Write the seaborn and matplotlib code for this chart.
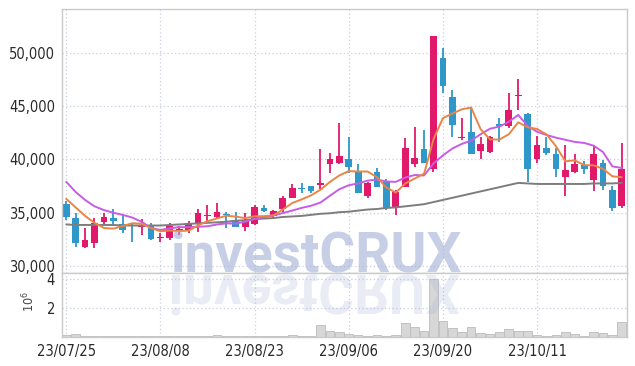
import numpy as np
import pandas as pd
import matplotlib
matplotlib.use("Agg")
import matplotlib.pyplot as plt
import seaborn as sns
from matplotlib import ticker, font_manager
from matplotlib.textpath import TextPath
from matplotlib.patches import PathPatch
from matplotlib.font_manager import FontProperties
from matplotlib.transforms import Affine2D

# ---------------- data ----------------
dates = ["23/07/25", "23/07/26", "23/07/27", "23/07/28", "23/07/31", "23/08/01", "23/08/02", "23/08/03", "23/08/04", "23/08/07",
         "23/08/08", "23/08/09", "23/08/10", "23/08/11", "23/08/14", "23/08/16", "23/08/17", "23/08/18", "23/08/21", "23/08/22",
         "23/08/23", "23/08/24", "23/08/25", "23/08/28", "23/08/29", "23/08/30", "23/08/31", "23/09/01", "23/09/04", "23/09/05",
         "23/09/06", "23/09/07", "23/09/08", "23/09/11", "23/09/12", "23/09/13", "23/09/14", "23/09/15", "23/09/18", "23/09/19",
         "23/09/20", "23/09/21", "23/09/22", "23/09/25", "23/09/26", "23/09/27", "23/10/04", "23/10/05", "23/10/06", "23/10/10",
         "23/10/11", "23/10/12", "23/10/13", "23/10/16", "23/10/17", "23/10/18", "23/10/19", "23/10/20", "23/10/23", "23/10/24"]

open_ = [35800, 34500, 31800, 32150, 34150, 34500, 33950, 33850, 33650, 33850,
         32650, 32650, 33400, 33400, 34050, 34650, 34600, 34900, 34250, 33650,
         33950, 35450, 34700, 35350, 36400, 37300, 37500, 37600, 39600, 39650,
         40050, 38850, 36550, 38850, 38000, 35550, 37400, 39600, 41000, 39100,
         49550, 45850, 42050, 42600, 40800, 40700, 43350, 43150, 46000, 44250,
         40050, 41100, 40500, 38350, 38800, 39500, 38050, 39650, 37150, 35650]
high = [36100, 35000, 33550, 34500, 35000, 35350, 34800, 34050, 34400, 34050,
        33100, 34050, 33750, 34250, 35350, 35700, 35900, 35050, 35050, 35000,
        35750, 35750, 35250, 36550, 37700, 37800, 37500, 40950, 40600, 43450,
        42100, 39600, 37900, 39200, 38150, 37150, 42000, 43050, 42750, 51600,
        50450, 46550, 43900, 44950, 42100, 42200, 43900, 46250, 47550, 44350,
        42200, 42100, 41100, 41350, 40500, 39850, 41350, 39950, 37500, 41550]
low = [34300, 31800, 31700, 31700, 33850, 33750, 33100, 32250, 32900, 32450,
       32250, 32450, 32900, 33100, 33200, 34050, 34500, 33550, 33650, 33300,
       33850, 35050, 34400, 35050, 36400, 36850, 36850, 37250, 38750, 39600,
       38750, 36850, 36400, 37400, 35250, 34800, 37400, 39300, 39650, 38800,
       46250, 42100, 41850, 40500, 40050, 40600, 41650, 42950, 44650, 37900,
       39650, 40400, 38350, 36550, 38750, 38650, 37050, 37150, 35150, 35450]
close = [34600, 32150, 32450, 34050, 34600, 34250, 33400, 33750, 33850, 32550,
         32750, 33750, 33500, 34050, 35000, 34700, 35050, 34800, 33650, 34250,
         35550, 35150, 35150, 36400, 37300, 37250, 37050, 37800, 40050, 40350,
         39300, 36850, 37800, 37400, 35450, 36950, 41100, 40150, 39650, 51600,
         46900, 43250, 42150, 40500, 41450, 42100, 43150, 44650, 46100, 39100,
         41350, 40600, 39100, 39000, 39550, 39100, 40500, 37500, 35450, 39100]

ma5 = [36300, 35500, 34700, 34050, 33570, 33500, 33750, 34010, 33970, 33560,
       33260, 33330, 33280, 33320, 33810, 34200, 34460, 34720, 34640, 34490,
       34660, 34680, 34750, 35300, 35910, 36250, 36630, 37160, 37890, 38500,
       38910, 38870, 38870, 38340, 37360, 36890, 37740, 38210, 38660, 41890,
       43880, 44310, 44710, 44880, 42850, 41890, 41870, 42370, 43490, 43020,
       42870, 42360, 41250, 39830, 39920, 39470, 39450, 39130, 38420, 38330]
ma10 = [37900, 36950, 36200, 35600, 35250, 35000, 34800, 34550, 34150, 33565,
        33380, 33540, 33645, 33645, 33685, 33730, 33895, 34000, 33980, 34150,
        34430, 34570, 34735, 34970, 35200, 35455, 35655, 35955, 36595, 37205,
        37580, 37750, 38015, 38115, 37930, 37900, 38305, 38540, 38500, 39625,
        40385, 41025, 41460, 41770, 42370, 42885, 43090, 43540, 44185, 43150,
        42600, 42300, 42050, 41850, 41650, 41550, 41300, 40700, 39350, 39200]
ma60 = [33900, 33850, 33850, 33850, 33850, 33850, 33800, 33800, 33800, 33800,
        33800, 33850, 33900, 33950, 34000, 34050, 34100, 34150, 34250, 34300,
        34400, 34450, 34500, 34600, 34650, 34700, 34800, 34900, 34950, 35050,
        35100, 35200, 35300, 35350, 35450, 35500, 35600, 35700, 35800, 36000,
        36200, 36400, 36600, 36800, 37000, 37200, 37400, 37600, 37800, 37750,
        37700, 37700, 37700, 37700, 37700, 37700, 37750, 37750, 37750, 37800]

volume_m = [0.12, 0.20, 0.08, 0.06, 0.05, 0.05, 0.05, 0.05, 0.04, 0.06,
            0.05, 0.08, 0.05, 0.06, 0.06, 0.06, 0.12, 0.05, 0.04, 0.05,
            0.07, 0.05, 0.06, 0.08, 0.15, 0.10, 0.07, 0.85, 0.42, 0.33,
            0.20, 0.12, 0.07, 0.12, 0.10, 0.12, 0.96, 0.68, 0.42, 4.05,
            1.08, 0.60, 0.32, 0.68, 0.25, 0.18, 0.32, 0.55, 0.42, 0.42,
            0.15, 0.08, 0.13, 0.32, 0.22, 0.08, 0.32, 0.25, 0.17, 1.04]

price_ticks = [30000, 35000, 40000, 45000, 50000]
volume_ticks = [2, 4]
watermark = "investCRUX"

# ---------------- styling ----------------
sns.set_theme(style="white")

# pick a narrow face for tick labels if one is installed
_files = [f.fname for f in font_manager.fontManager.ttflist]
_names = {f.name for f in font_manager.fontManager.ttflist}
tick_stretch = "normal"
tick_weight = "normal"
if "Liberation Sans Narrow" in _names:
    tick_family, tick_size = "Liberation Sans Narrow", 11.5
elif any("DejaVuSansCondensed" in fn for fn in _files):
    tick_family, tick_size, tick_stretch = "DejaVu Sans", 10.5, "condensed"
elif "Roboto Condensed" in _names:
    tick_family, tick_size = "Roboto Condensed", 11.5
else:
    tick_family, tick_size, tick_weight = "Roboto", 10, "medium"
plt.rcParams["font.family"] = [tick_family, "DejaVu Sans"]
plt.rcParams["font.stretch"] = tick_stretch
plt.rcParams["font.weight"] = tick_weight
plt.rcParams["mathtext.fontset"] = "dejavusans"

UP = "#e2196b"
DOWN = "#2f97c9"
GRID = "#c9cee2"
SPINE = "#cacaca"
TXT = "#2a2a2a"

df = pd.DataFrame({"date": dates, "open": open_, "high": high, "low": low,
                   "close": close, "ma5": ma5, "ma10": ma10, "ma60": ma60,
                   "vol": np.array(volume_m) * 1e6})
df["i"] = np.arange(len(df))
up = df["close"] >= df["open"]
df["color"] = np.where(up, UP, DOWN)

W, H = 635, 366
fig = plt.figure(figsize=(W / 100, H / 100), dpi=100)
L, R = 62, 627
ax = fig.add_axes([L / W, 1 - 273 / H, (R - L) / W, (273 - 9) / H])
axv = fig.add_axes([L / W, 1 - 337 / H, (R - L) / W, (337 - 273) / H], sharex=ax)

# candles
body_lo = df[["open", "close"]].min(axis=1)
body_h = (df["open"] - df["close"]).abs().clip(lower=90)
ax.vlines(df["i"], df["low"], df["high"], colors=df["color"], lw=1.3, zorder=2)
ax.bar(df["i"], body_h, bottom=body_lo, width=0.72, color=df["color"],
       edgecolor="none", zorder=2.5)

# moving averages
sns.lineplot(data=df, x="i", y="ma60", ax=ax, color="#7d7d7d", lw=1.4, zorder=3)
sns.lineplot(data=df, x="i", y="ma10", ax=ax, color="#c95be9", lw=1.4, zorder=3)
sns.lineplot(data=df, x="i", y="ma5", ax=ax, color="#ea8546", lw=1.4, zorder=3)

# volume
axv.bar(df["i"], df["vol"], width=0.92, color="#d7d7d7", edgecolor="#bcbcbc",
        lw=0.6, zorder=2)

# axes formatting
ax.set_xlim(-0.45, 59.55)
ax.set_ylim(29340, 54130)
axv.set_ylim(0, 4.45e6)
ax.set_yticks(price_ticks)
ax.yaxis.set_major_formatter(ticker.StrMethodFormatter("{x:,.0f}"))
axv.set_yticks([v * 1e6 for v in volume_ticks])
axv.set_yticklabels([str(v) for v in volume_ticks])
xt = list(range(0, len(dates), 10))
axv.set_xticks(xt)
axv.set_xticklabels([dates[k] for k in xt])
ax.tick_params(axis="x", labelbottom=False)

for a in (ax, axv):
    a.set_xlabel("")
    a.set_ylabel("")
    a.grid(True, color=GRID, linestyle=(0, (1, 2)), lw=0.9, zorder=0)
    a.set_axisbelow(True)
    a.tick_params(length=0, labelsize=tick_size, colors=TXT, pad=5)
    for s in a.spines.values():
        s.set_color(SPINE)
        s.set_linewidth(1.0)
        s.set_visible(True)
axv.tick_params(axis="x", pad=5)
axv.set_ylabel(r"$10^6$", fontsize=9, color="#444444", rotation=90)
axv.yaxis.set_label_coords(-0.043, 0.55)

# watermark and its reflection
cx = 315.5 / W
fig.text(cx, 1 - 272 / H, watermark, ha="center", va="baseline",
         fontsize=39.5, fontweight="bold", family="Roboto", fontstretch="normal",
         color=(0.64, 0.69, 0.84), alpha=0.6, zorder=10)
fp = FontProperties(family="Roboto", weight="bold", size=39.5, stretch="normal")
tp = TextPath((0, 0), watermark, prop=fp)
ext = tp.get_extents()
tr = (Affine2D().translate(-(ext.x0 + ext.x1) / 2, 0).scale(1 / 72, -1 / 72)
      .translate(315.5 / 100, (H - 275) / 100) + fig.dpi_scale_trans)
patch = PathPatch(tp, transform=tr, facecolor=(0.66, 0.71, 0.84), edgecolor="none",
                  alpha=0.25, zorder=10)
fig.patches.append(patch)

fig.savefig("out.png", dpi=100)
